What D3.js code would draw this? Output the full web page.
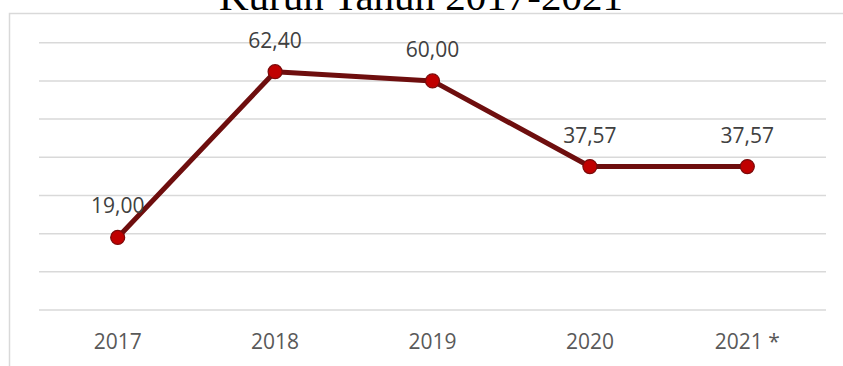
<!DOCTYPE html>
<html>
<head>
<meta charset="utf-8">
<script src="https://cdn.jsdelivr.net/npm/d3@7"></script>
<style>
  html, body { margin: 0; padding: 0; background: #fff; }
  svg { display: block; }
</style>
</head>
<body>
<svg id="chart" width="843" height="366"></svg>
<script>
const categories = ["2017", "2018", "2019", "2020", "2021 *"];
const values = [19.00, 62.40, 60.00, 37.57, 37.57];
const valueLabels = ["19,00", "62,40", "60,00", "37,57", "37,57"];
const gridTicks = [0, 10, 20, 30, 40, 50, 60, 70];
const titleText = "Kurun Tahun 2017-2021";

const svg = d3.select("#chart");
const W = 843, H = 366;

// outer chart frame (partially cropped)
svg.append("rect")
  .attr("x", 9.5).attr("y", 13.5)
  .attr("width", 900).attr("height", 400)
  .attr("fill", "#fff")
  .attr("stroke", "#d9d9d9").attr("stroke-width", 1.5);

// title (cropped at the top)
svg.append("text")
  .attr("x", 421).attr("y", 10)
  .attr("text-anchor", "middle")
  .attr("font-family", "'Liberation Serif', serif")
  .attr("font-size", 41)
  .attr("fill", "#000")
  .text(titleText);

const plotLeft = 39, plotRight = 826, plotTop = 42.7, plotBottom = 310;

const x = d3.scaleBand().domain(categories).range([plotLeft, plotRight]).padding(0);
const y = d3.scaleLinear().domain([0, 70]).range([plotBottom, plotTop]);
const cx = c => x(c) + x.bandwidth() / 2;

// gridlines
svg.append("g").selectAll("line").data(gridTicks).join("line")
  .attr("x1", plotLeft).attr("x2", plotRight)
  .attr("y1", d => y(d)).attr("y2", d => y(d))
  .attr("stroke", "#d9d9d9").attr("stroke-width", 1.5);

// x axis labels
const xAxis = d3.axisBottom(x).tickSize(0).tickPadding(0);
const gx = svg.append("g").attr("transform", `translate(0,${plotBottom})`).call(xAxis);
gx.select(".domain").remove();
gx.selectAll("text")
  .attr("y", 39.3).attr("dy", null)
  .attr("font-family", "'Open Sans', sans-serif")
  .attr("font-size", 21)
  .attr("fill", "#595959");

const pts = categories.map((c, i) => ({ c, v: values[i], lab: valueLabels[i] }));

// line
svg.append("path")
  .datum(pts)
  .attr("fill", "none")
  .attr("stroke", "#6e0e0e")
  .attr("stroke-width", 5)
  .attr("stroke-linejoin", "round")
  .attr("d", d3.line().x(d => cx(d.c)).y(d => y(d.v)));

// markers
svg.append("g").selectAll("circle").data(pts).join("circle")
  .attr("cx", d => cx(d.c)).attr("cy", d => y(d.v))
  .attr("r", 7)
  .attr("fill", "#c00000")
  .attr("stroke", "#7a0a0a").attr("stroke-width", 1.2);

// data labels
svg.append("g").selectAll("text").data(pts).join("text")
  .attr("x", d => cx(d.c)).attr("y", d => y(d.v) - 24)
  .attr("text-anchor", "middle")
  .attr("font-family", "'Open Sans', sans-serif")
  .attr("font-size", 21)
  .attr("fill", "#404040")
  .text(d => d.lab);
</script>
</body>
</html>
